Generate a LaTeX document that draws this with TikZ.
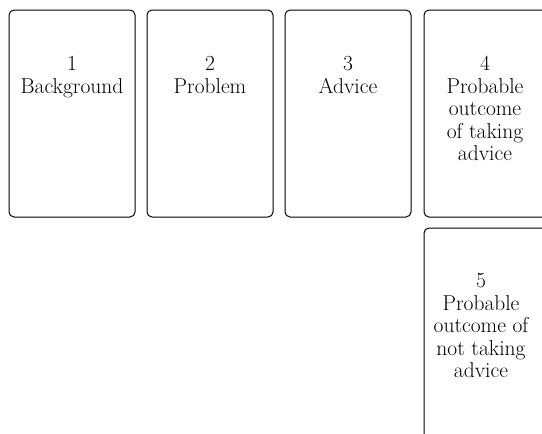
\documentclass[tikz,border=0pt]{standalone}
\usepackage{tikz}
\usetikzlibrary{positioning}

\begin{document}
\begin{tikzpicture}[x=1pt, y=1pt,
    card/.style={draw, rounded corners=5pt, line width=1pt, minimum width=126pt, minimum height=207pt, inner sep=0pt, outer sep=0pt},
    cardtext/.style={align=center, anchor=north, font=\fontsize{21.5}{22.5}\selectfont}]
                \clip (0,0) rectangle (542,-434);
                \node [card, anchor=north west] (box1) at (9,-10) {};
                \node [card, right=12pt of box1] (box2) {};
                \node [card, right=12pt of box2] (box3) {};
                \node [card, right=13pt of box3] (box4) {};
                \node [card, below=11pt of box4, minimum height=220pt] (box5) {};
                \node [cardtext] (text1) at ([yshift=-43pt]box1.north) {1\\Background};
                \node [cardtext] (text2) at ([yshift=-43pt]box2.north) {2\\Problem};
                \node [cardtext] (text3) at ([yshift=-43pt]box3.north) {3\\Advice};
                \node [cardtext] (text4) at ([yshift=-43pt, xshift=-2pt]box4.north) {4\\Probable\\outcome\\of taking\\advice};
                \node [cardtext] (text5) at ([yshift=-42pt, xshift=-6pt]box5.north) {5\\Probable\\outcome of\\not taking\\advice};
            \end{tikzpicture}
\end{document}
